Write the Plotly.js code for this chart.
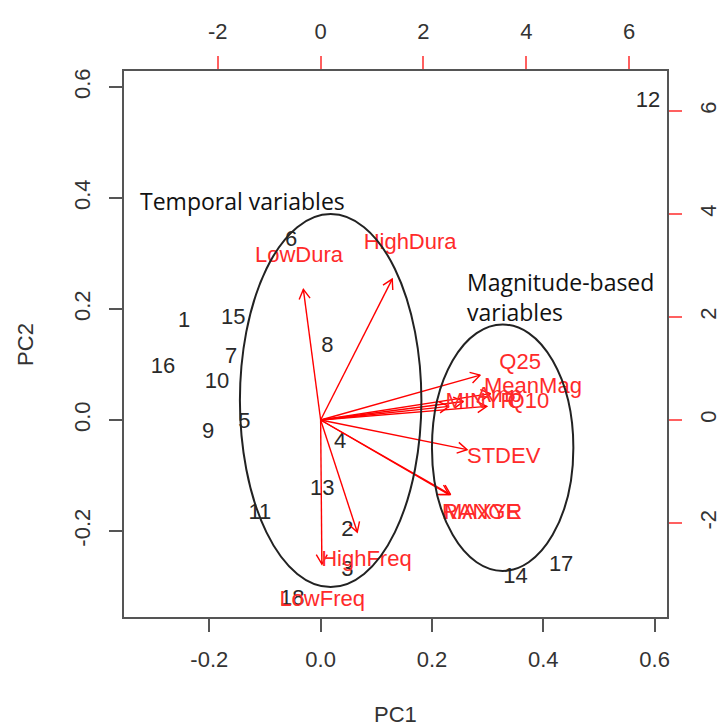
<!DOCTYPE html>
<html>
<head>
<meta charset="utf-8">
<script src="https://cdn.plot.ly/plotly-3.0.1.min.js"></script>
<style>html,body{margin:0;padding:0;background:#fff;}#chart{width:723px;height:728px;}</style>
</head>
<body>
<div id="chart"></div>
<script>
// Observation scores (PC1, PC2) – bottom/left axes
const obsLabels = ['1','2','3','4','5','6','7','8','9','10','11','12','13','14','15','16','17','18'];
const obsPC1 = [-0.245, 0.048, 0.048, 0.035, -0.137, -0.053, -0.161, 0.012, -0.202, -0.186, -0.109, 0.588, 0.003, 0.350, -0.157, -0.283, 0.432, -0.051];
const obsPC2 = [0.178, -0.200, -0.272, -0.041, -0.004, 0.323, 0.112, 0.132, -0.023, 0.067, -0.169, 0.573, -0.126, -0.283, 0.182, 0.094, -0.263, -0.324];

// Variable loadings (label positions) – top/right axes
const varLabels = ['LowDura','HighDura','Q25','MeanMag','Amp','MINYR','Q10','STDEV','RANGE','MAXYR','HighFreq','LowFreq'];
const varPC1 = [-0.42, 1.74, 3.88, 4.13, 3.47, 3.12, 4.04, 3.56, 3.12, 3.16, 0.89, 0.03];
const varPC2 = [3.17, 3.42, 1.09, 0.64, 0.45, 0.33, 0.33, -0.72, -1.81, -1.81, -2.72, -3.50];
const arrowScale = 0.8; // biplot draws arrows to 0.8 of label position

// Group ellipses (bottom/left axes units)
const ellNames = ['Temporal', 'Magnitude'];
const ellCx = [0.018, 0.327];
const ellCy = [0.035, -0.050];
const ellRx = [0.163, 0.127];
const ellRy = [0.336, 0.222];

// Axis ticks
const bottomTicks = [-0.2, 0.0, 0.2, 0.4, 0.6];
const bottomTickText = ['-0.2', '0.0', '0.2', '0.4', '0.6'];
const leftTicks = [-0.2, 0.0, 0.2, 0.4, 0.6];
const leftTickText = ['-0.2', '0.0', '0.2', '0.4', '0.6'];
const topTicks = [-2, 0, 2, 4, 6];
const topTickText = ['-2', '0', '2', '4', '6'];
const rightTicks = [-2, 0, 2, 4, 6];
const rightTickText = ['-2', '0', '2', '4', '6'];

const W = 723, H = 728;
const M = {l: 123, r: 55, t: 70, b: 110};
const plotW = W - M.l - M.r, plotH = H - M.t - M.b;
const xr = [-0.355, 0.624], yr = [-0.3568, 0.6306];
const x2r = [-3.844, 6.756], y2r = [-3.845, 6.796];
const pxX2 = plotW / (x2r[1] - x2r[0]);
const pxY2 = plotH / (y2r[1] - y2r[0]);

// Build arrows
const ax = [], ay = [];
const headLen = 11, headAng = Math.PI / 6;
for (let i = 0; i < varLabels.length; i++) {
  const tx = varPC1[i] * arrowScale, ty = varPC2[i] * arrowScale;
  ax.push(0, tx, null); ay.push(0, ty, null);
  const ang = Math.atan2(ty * pxY2, tx * pxX2);
  const hx = [], hy = [];
  for (const s of [1, -1]) {
    const a2 = ang + Math.PI + s * headAng;
    hx.push(tx + headLen * Math.cos(a2) / pxX2);
    hy.push(ty + headLen * Math.sin(a2) / pxY2);
  }
  ax.push(hx[0], tx, hx[1], null); ay.push(hy[0], ty, hy[1], null);
}

const labelFont = 'Liberation Sans, Arial, sans-serif';
const data = [
  {type: 'scatter', mode: 'lines', x: ax, y: ay, xaxis: 'x2', yaxis: 'y2',
   line: {color: '#ff0000', width: 1.4}, hoverinfo: 'skip', showlegend: false},
  {type: 'scatter', mode: 'text', x: varPC1, y: varPC2, text: varLabels, xaxis: 'x2', yaxis: 'y2',
   textposition: 'middle center', textfont: {family: labelFont, size: 22, color: '#ff2a2a'},
   hoverinfo: 'skip', showlegend: false},
  {type: 'scatter', mode: 'text', x: obsPC1, y: obsPC2, text: obsLabels, xaxis: 'x', yaxis: 'y',
   textposition: 'middle center', textfont: {family: labelFont, size: 22, color: '#2a2a2a'},
   hoverinfo: 'skip', showlegend: false}
];

const shapes = [];
for (let i = 0; i < ellNames.length; i++) {
  shapes.push({type: 'circle', xref: 'x', yref: 'y',
    x0: ellCx[i] - ellRx[i], x1: ellCx[i] + ellRx[i], y0: ellCy[i] - ellRy[i], y1: ellCy[i] + ellRy[i],
    line: {color: '#222', width: 2}});
}
shapes.push({type: 'rect', xref: 'paper', yref: 'paper', x0: 0, x1: 1, y0: 0, y1: 1,
  line: {color: '#555', width: 2}});

const tickFont = {family: labelFont, size: 22, color: '#333'};
const layout = {
  width: W, height: H, margin: M,
  paper_bgcolor: '#fff', plot_bgcolor: '#fff', showlegend: false,
  xaxis: {range: xr, tickvals: bottomTicks, ticktext: bottomTickText, ticks: 'outside', ticklen: 13,
    tickwidth: 2, tickcolor: '#555', showgrid: false, zeroline: false, showline: false,
    tickfont: tickFont, ticklabelstandoff: 9, fixedrange: true},
  yaxis: {range: yr, tickvals: leftTicks, ticktext: leftTickText, ticks: 'outside', ticklen: 13,
    tickwidth: 2, tickcolor: '#555', showgrid: false, zeroline: false, showline: false,
    tickfont: tickFont, tickangle: -90, ticklabelstandoff: 10, fixedrange: true},
  xaxis2: {range: x2r, overlaying: 'x', side: 'top', anchor: 'y2', tickvals: topTicks, ticktext: topTickText,
    ticks: 'outside', ticklen: 13, tickwidth: 2, tickcolor: '#ff6060', showgrid: false, zeroline: false,
    showline: false, tickfont: tickFont, ticklabelstandoff: 8, fixedrange: true},
  yaxis2: {range: y2r, overlaying: 'y', side: 'right', anchor: 'x2', tickvals: rightTicks, ticktext: rightTickText,
    ticks: 'outside', ticklen: 13, tickwidth: 2, tickcolor: '#ff6060', showgrid: false, zeroline: false,
    showline: false, tickfont: tickFont, tickangle: -90, ticklabelstandoff: 8, fixedrange: true},
  shapes: shapes,
  annotations: [
    {xref: 'x', yref: 'y', x: -0.141, y: 0.395, text: 'Temporal variables', showarrow: false,
     font: {family: 'Open Sans, sans-serif', size: 23, color: '#111'}, xanchor: 'center', yanchor: 'middle'},
    {xref: 'x', yref: 'y', x: 0.259, y: 0.222, text: 'Magnitude-based<br>variables', showarrow: false, align: 'left',
     font: {family: 'Open Sans, sans-serif', size: 23, color: '#111'}, xanchor: 'left', yanchor: 'middle'},
    {xref: 'paper', yref: 'paper', x: 0.5, y: -0.177, text: 'PC1', showarrow: false,
     font: {family: labelFont, size: 22, color: '#333'}, xanchor: 'center', yanchor: 'middle'},
    {xref: 'paper', yref: 'paper', x: -0.18, y: 0.5, text: 'PC2', showarrow: false, textangle: -90,
     font: {family: labelFont, size: 22, color: '#333'}, xanchor: 'center', yanchor: 'middle'}
  ]
};

Plotly.newPlot('chart', data, layout, {staticPlot: true, displayModeBar: false});
</script>
</body>
</html>
